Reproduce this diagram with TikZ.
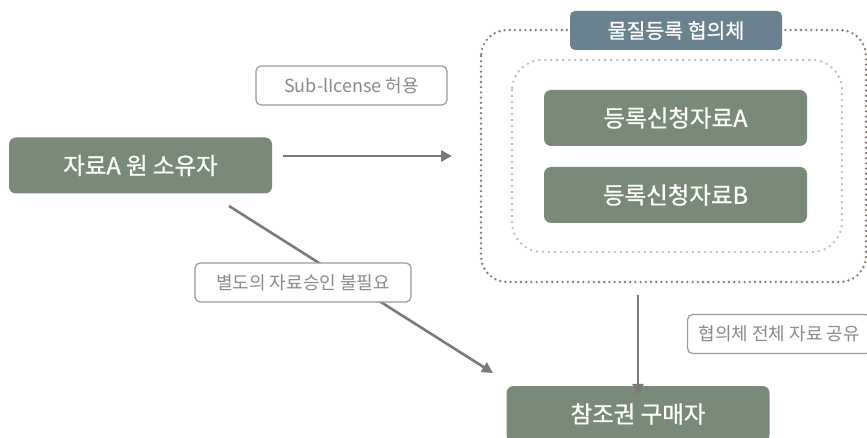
\documentclass[tikz,border=0pt]{standalone}
\usepackage{fontspec}
\setmainfont{Noto Sans CJK KR}
\newfontfamily\medfont[FakeBold=0.8]{Noto Sans CJK KR}
\usetikzlibrary{arrows.meta}
\definecolor{boxgreen}{HTML}{798A78}
\definecolor{titleblue}{HTML}{6A8290}
\definecolor{dotbrown}{HTML}{8C776C}
\definecolor{dotgray}{HTML}{BBBBBB}
\definecolor{arrowgray}{HTML}{7A7A7A}
\definecolor{lblgray}{HTML}{9A9A9A}
\definecolor{lbltext}{HTML}{8A8A8A}
\tikzset{
  greenbox/.style={rectangle, rounded corners=7pt, fill=boxgreen, text=white,
    minimum width=263pt, minimum height=56pt, inner sep=0pt,
    font=\medfont\fontsize{23.5}{28}\selectfont},
  titlebox/.style={rectangle, rounded corners=5pt, fill=titleblue, text=white,
    minimum width=212pt, minimum height=39pt, inner sep=0pt,
    font=\medfont\fontsize{20.5}{24}\selectfont},
  lbl/.style={rectangle, rounded corners=5pt, draw=lblgray, line width=1.2pt, fill=white,
    text=lbltext, minimum height=39pt, inner sep=0pt,
    font=\fontsize{18}{22}\selectfont},
  conn/.style={draw=arrowgray, line width=2.6pt, -{Triangle[length=11pt,width=11pt]}},
  outerdots/.style={draw=dotbrown, line width=2.6pt, line cap=round,
    dash pattern=on 0pt off 5.2pt, rounded corners=26pt},
  innerdots/.style={draw=dotgray, line width=2.6pt, line cap=round,
    dash pattern=on 0pt off 6pt, rounded corners=30pt}
}
\begin{document}
\begin{tikzpicture}[x=1pt,y=-1pt]
\useasboundingbox (0,0) rectangle (867,438);
\clip (0,0) rectangle (867,438);
\fill[white] (0,0) rectangle (867,438);
% groups
\draw[outerdots] (481,30) rectangle (866,282);
\node (outergrp) at (673.5,156) [minimum width=385pt, minimum height=252pt, inner sep=0pt] {};
\draw[innerdots] (512,60) rectangle (842,252);
\node[titlebox] (title) at (676,30.5) {물질등록 협의체};
% nodes
\node[greenbox] (owner) at (140.5,165.5) {자료A 원 소유자};
\node[greenbox] (dataA) at (675.5,118) {등록신청자료A};
\node[greenbox] (dataB) at (675.5,195) {등록신청자료B};
\node[greenbox] (buyer) at (638,414) {참조권 구매자};
% connectors
\coordinate (rs) at (283,156);
\coordinate (re) at (452,156);
\draw[conn] (rs) -- (re);
\coordinate (ds) at (229,206);
\coordinate (de) at (493,373);
\draw[conn] (ds) -- (de);
\draw[conn] (outergrp.south -| buyer.north) ++(0,13) -- ([yshift=-9pt]buyer.north);
% labels
\node[lbl, minimum width=191pt] (sublic) at (351.5,85.5) {Sub-lIcense 허용};
\node[lbl, minimum width=216pt] (noappr) at (303,282.5) {별도의 자료승인 불필요};
\node[lbl, anchor=west, inner xsep=11pt] (share) at (687,334) {협의체 전체 자료 공유};
\end{tikzpicture}
\end{document}
